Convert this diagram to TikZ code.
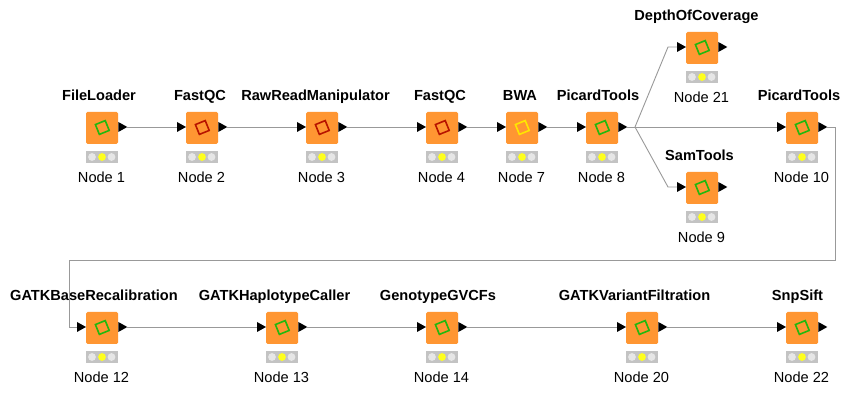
\documentclass[tikz,border=0pt]{standalone}
\usepackage{fontspec}
\setmainfont{Liberation Sans}
\tikzset{
  x=1pt,y=-1pt,
  knbox/.style={fill=knorange,draw=none,rounded corners=1.5pt,minimum width=32pt,minimum height=32pt,inner sep=0pt,outer sep=0pt},
  knbar/.style={fill=knbargray,draw=none,minimum width=32pt,minimum height=11.7pt,inner sep=0pt,outer sep=0pt},
  kndim/.style={fill=knlight,draw=none,circle,minimum size=7.8pt,inner sep=0pt},
  knlit/.style={fill=knyellow,draw=none,circle,minimum size=7.8pt,inner sep=0pt},
  kntitle/.style={anchor=base,inner sep=0pt,font=\fontsize{14.6}{16}\selectfont\bfseries},
  knlabel/.style={anchor=base,inner sep=0pt,font=\fontsize{14.6}{16}\selectfont},
  knport/.style={fill=black,draw=none},
  knwire/.style={draw=knwirecol,line width=0.9pt},
  knstate/.style={line width=1.6pt,fill=none,line join=miter}
}
\definecolor{knorange}{HTML}{FF9632}
\definecolor{knbargray}{HTML}{C3C3C3}
\definecolor{knlight}{HTML}{E6E6E6}
\definecolor{knyellow}{HTML}{FFFF1E}
\definecolor{knwirecol}{HTML}{999999}
\definecolor{kngreen}{HTML}{22B80E}
\definecolor{knred}{HTML}{B81400}
\definecolor{knamber}{HTML}{FFE600}
% id, left, top, title, label, state colour, title centre
\newcommand{\knode}[7]{%
  \node[knbox] (#1) at (#2+16,#3+16) {};
  \node[knbar] (#1-bar) at (#2+16,#3+44.8) {};
  \node[kndim] (#1-l1) at (#2+6,#3+45) {};
  \node[knlit] (#1-l2) at (#2+16,#3+45) {};
  \node[kndim] (#1-l3) at (#2+25.5,#3+45) {};
  \draw[knstate,draw=#6,rotate around={22:(#2+16.3,#3+15.5)}] (#2+11,#3+10.2) rectangle (#2+21.6,#3+20.8);
  \node[kntitle] (#1-title) at (#7,#3-11.4) {#4};
  \node[knlabel] (#1-label) at (#2+15.5,#3+70.3) {#5};
  \coordinate (#1-in) at (#2-9,#3+15);
  \coordinate (#1-out) at (#2+41,#3+15);
  \fill[knport] (#2+32.3,#3+10) -- (#2+41.3,#3+15) -- (#2+32.3,#3+20) -- cycle;
}
\newcommand{\knin}[2]{\fill[knport] (#1-9,#2+10) -- (#1,#2+15) -- (#1-9,#2+20) -- cycle;}
\begin{document}
\begin{tikzpicture}
\useasboundingbox (0,0) rectangle (855,414);
\fill[white] (0,0) rectangle (855,414);
\knode{n1}{86}{112}{FileLoader}{Node 1}{kngreen}{99}
\knode{n2}{186}{112}{FastQC}{Node 2}{knred}{200}\knin{186}{112}
\knode{n3}{306}{112}{RawReadManipulator}{Node 3}{knred}{315.5}\knin{306}{112}
\knode{n4}{426}{112}{FastQC}{Node 4}{knred}{440}\knin{426}{112}
\knode{n7}{506}{112}{BWA}{Node 7}{knamber}{520}\knin{506}{112}
\knode{n8}{586}{112}{PicardTools}{Node 8}{kngreen}{598}\knin{586}{112}
\knode{n21}{686}{32}{DepthOfCoverage}{Node 21}{kngreen}{696.5}\knin{686}{32}
\knode{n9}{686}{172}{SamTools}{Node 9}{kngreen}{699.5}\knin{686}{172}
\knode{n10}{786}{112}{PicardTools}{Node 10}{kngreen}{799}\knin{786}{112}
\knode{n12}{86}{312}{GATKBaseRecalibration}{Node 12}{kngreen}{94}\knin{86}{312}
\knode{n13}{266}{312}{GATKHaplotypeCaller}{Node 13}{kngreen}{274.5}\knin{266}{312}
\knode{n14}{426}{312}{GenotypeGVCFs}{Node 14}{kngreen}{438}\knin{426}{312}
\knode{n20}{626}{312}{GATKVariantFiltration}{Node 20}{kngreen}{634.5}\knin{626}{312}
\knode{n22}{786}{312}{SnpSift}{Node 22}{kngreen}{797.5}\knin{786}{312}
\coordinate (fork) at (635,127);
\coordinate (upbend) at (668,47);
\coordinate (lowbend) at (668,187);
\coordinate (wrapa) at (835,127);
\coordinate (wrapb) at (835,260);
\coordinate (wrapc) at (69,260);
\coordinate (wrapd) at (69,327);
\begin{scope}[knwire]
\draw (n1-out) -- (n2-in);
\draw (n2-out) -- (n3-in);
\draw (n3-out) -- (n4-in);
\draw (n4-out) -- (n7-in);
\draw (n7-out) -- (n8-in);
\draw (n8-out) -- (fork);
\draw (fork) -- (n10-in);
\draw (fork) -- (upbend) -- (n21-in);
\draw (fork) -- (lowbend) -- (n9-in);
\draw (n10-out) -- (wrapa) -- (wrapb) -- (wrapc) -- (wrapd) -- (n12-in);
\draw (n12-out) -- (n13-in);
\draw (n13-out) -- (n14-in);
\draw (n14-out) -- (n20-in);
\draw (n20-out) -- (n22-in);
\end{scope}
\end{tikzpicture}
\end{document}
